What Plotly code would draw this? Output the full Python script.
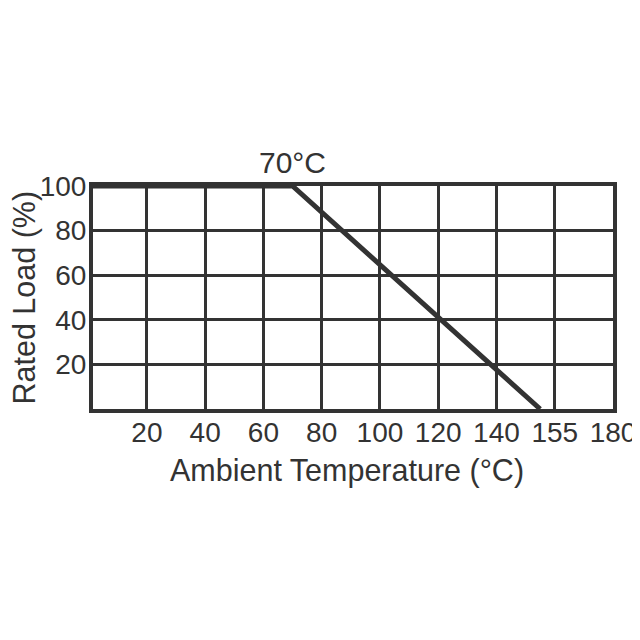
import plotly.graph_objects as go

# Derating curve data
temp_c = [0, 70, 155]
rated_load = [100, 100, 0]

x_tick_vals = [20, 40, 60, 80, 100, 120, 140, 160, 180]
x_tick_text = ["20", "40", "60", "80", "100", "120", "140", "155", "180"]
y_tick_vals = [20, 40, 60, 80, 100]
y_tick_text = ["20", "40", "60", "80", "100"]

knee_label = "70°C"
x_title = "Ambient Temperature (°C)"
y_title = "Rated Load (%)"

ink = "#333333"
font_family = "Liberation Sans, Arial, Helvetica, sans-serif"

fig = go.Figure()
fig.add_trace(go.Scatter(
    x=temp_c, y=rated_load, mode="lines",
    line=dict(color=ink, width=5),
    hoverinfo="skip", showlegend=False, cliponaxis=False,
))

fig.add_annotation(
    x=temp_c[1], y=rated_load[1], xref="x", yref="y",
    text=knee_label, showarrow=False,
    yanchor="bottom", yshift=5,
    font=dict(size=30, color=ink, family=font_family),
)

# axis titles placed as annotations relative to the plot area
fig.add_annotation(
    x=0.5, y=0, xref="paper", yref="paper",
    text=x_title, showarrow=False,
    xanchor="center", yanchor="middle", xshift=-6, yshift=-61,
    font=dict(size=30.5, color=ink, family=font_family),
)
fig.add_annotation(
    x=0, y=0.5, xref="paper", yref="paper",
    text=y_title, showarrow=False, textangle=-90,
    xanchor="center", yanchor="middle", xshift=-69, yshift=0,
    font=dict(size=30.5, color=ink, family=font_family),
)

# page body adds an 8px offset, so the figure is sized 632 x 624
fig.update_layout(
    width=632, height=624,
    margin=dict(l=85, r=27, t=178, b=223, autoexpand=False),
    paper_bgcolor="white", plot_bgcolor="white",
    font=dict(family=font_family, color=ink),
    xaxis=dict(
        range=[1.5, 180], tickvals=x_tick_vals, ticktext=x_tick_text,
        showgrid=True, gridcolor=ink, gridwidth=2.5,
        showline=True, linecolor=ink, linewidth=4, mirror=True,
        zeroline=False, ticks="", automargin=False,
        ticklabelstandoff=-5,
        tickfont=dict(size=28, color=ink),
    ),
    yaxis=dict(
        range=[0, 100], tickvals=y_tick_vals, ticktext=y_tick_text,
        showgrid=True, gridcolor=ink, gridwidth=2.5,
        showline=True, linecolor=ink, linewidth=4, mirror=True,
        zeroline=False, ticks="", automargin=False,
        ticklabelstandoff=-3,
        tickfont=dict(size=28, color=ink),
    ),
)

fig.write_html("out.html")
